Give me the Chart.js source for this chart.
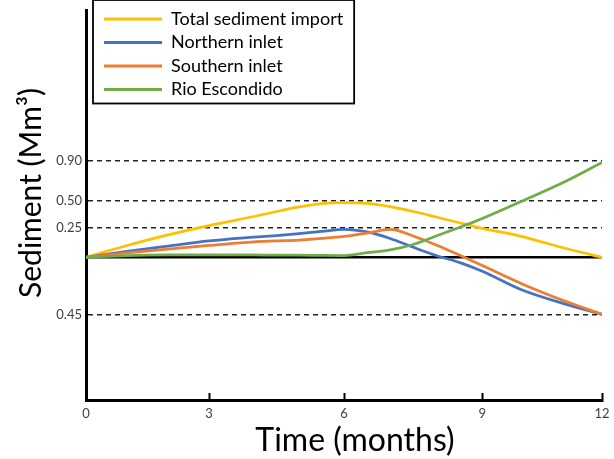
<!DOCTYPE html>
<html>
<head>
<meta charset="utf-8">
<script src="https://cdn.jsdelivr.net/npm/chart.js@4.4.1/dist/chart.umd.min.js"></script>
<style>
  html, body { margin: 0; padding: 0; background: #ffffff; }
  #wrap { width: 614px; height: 459px; }
</style>
</head>
<body>
<div id="wrap"><canvas id="chart" width="614" height="459"></canvas></div>
<script>
// Sediment budget over one year (Mm³); positive = import, negative = export
const months = [0, 1, 2, 3, 4, 4.5, 5, 5.5, 6, 6.5, 7, 7.5, 8, 8.5, 9, 10, 11, 12];
const totalImport   = [0, 0.10, 0.19, 0.27, 0.354, 0.40, 0.442, 0.474, 0.483, 0.475, 0.445, 0.40, 0.349, 0.296, 0.245, 0.175, 0.083, 0];
const northernInlet = [0, 0.05, 0.095, 0.138, 0.17, 0.184, 0.20, 0.218, 0.236, 0.214, 0.159, 0.085, 0.015, -0.04, -0.11, -0.258, -0.362, -0.45];
const southernInlet = [0, 0.037, 0.07, 0.10, 0.13, 0.138, 0.146, 0.159, 0.176, 0.205, 0.235, 0.18, 0.104, 0.019, -0.065, -0.21, -0.337, -0.45];
const rioEscondido  = [0, 0.015, 0.02, 0.02, 0.02, 0.018, 0.018, 0.016, 0.015, 0.039, 0.062, 0.108, 0.18, 0.252, 0.335, 0.497, 0.676, 0.88];
const seriesNames = ['Total sediment import', 'Northern inlet', 'Southern inlet', 'Rio Escondido'];
const seriesColors = ['#FFC000', '#4472C4', '#ED7D31', '#70AD47'];
const yTickValues = [-0.45, 0, 0.25, 0.5, 0.9];
const xTickValues = [0, 3, 6, 9, 12];

// Schematic axes: each axis is piecewise linear between [value, fraction-of-axis] stops
const axisStops = {
  x: [[0, 0], [3, 0.2384], [6, 0.5], [9, 0.768], [12, 1]],
  y: [[-1.13, 0], [-0.45, 0.2197], [0, 0.3659], [0.25, 0.4418], [0.5, 0.5110], [0.9, 0.6141], [2.4, 1]]
};

class StopScale extends Chart.LinearScale {
  static id = 'stops';
  static defaults = Chart.LinearScale.defaults;
  _stops() { return axisStops[this.id]; }
  _toDecimal(v) {
    const s = this._stops();
    let i = 1;
    while (i < s.length - 1 && v > s[i][0]) i++;
    const [v0, d0] = s[i - 1], [v1, d1] = s[i];
    return d0 + (v - v0) * (d1 - d0) / (v1 - v0);
  }
  _fromDecimal(d) {
    const s = this._stops();
    let i = 1;
    while (i < s.length - 1 && d > s[i][1]) i++;
    const [v0, d0] = s[i - 1], [v1, d1] = s[i];
    return v0 + (d - d0) * (v1 - v0) / (d1 - d0);
  }
  getPixelForValue(value) { return this.getPixelForDecimal(this._toDecimal(value)); }
  getValueForPixel(pixel) { return this._fromDecimal(this.getDecimalForPixel(pixel)); }
}
Chart.register(StopScale);

const toPoints = (values) => months.map((m, i) => ({ x: m, y: values[i] }));
const seriesValues = [totalImport, northernInlet, southernInlet, rioEscondido];

const datasets = seriesValues.map((vals, i) => ({
  label: seriesNames[i],
  data: toPoints(vals),
  borderColor: seriesColors[i],
  backgroundColor: seriesColors[i],
  borderWidth: 2.75,
  pointRadius: 0,
  cubicInterpolationMode: 'monotone',
  order: 4 - i
}));
// zero line
datasets.push({
  label: 'zero',
  data: toPoints(months.map(() => 0)),
  borderColor: '#000000',
  borderWidth: 2.5,
  pointRadius: 0,
  order: 10
});

const tickFont = { family: 'Lato', size: 13 };

const decor = {
  id: 'decor',
  afterLayout(chart) {
    chart.legend.left += 12.5;
    chart.legend.top += 4.5;
  },
  afterDraw(chart) {
    const ctx = chart.ctx;
    const lg = chart.legend;
    const lab = lg.options.labels;
    ctx.save();
    ctx.font = lab.font.size + 'px ' + lab.font.family;
    const maxText = Math.max(...seriesNames.map(t => ctx.measureText(t).width));
    const x0 = lg.left + lab.padding;
    const y0 = lg.top + lab.padding;
    const rows = seriesNames.length;
    const rowH = lab.font.size + lab.padding;
    const left = x0 - 11, top = y0 - 10;
    const right = x0 + lab.boxWidth + lab.font.size / 2 + maxText + 11;
    const bottom = y0 + (rows - 1) * rowH + lab.font.size + 5;
    ctx.lineWidth = 1.8;
    ctx.strokeStyle = '#000';
    ctx.strokeRect(left, top, right - left, bottom - top);

    // axis titles
    ctx.fillStyle = '#000';
    ctx.textAlign = 'center';
    ctx.textBaseline = 'alphabetic';
    ctx.font = '32px Lato';
    ctx.fillText('Time (months)', 355, 451);
    ctx.font = '30px Lato';
    ctx.translate(41, 193);
    ctx.rotate(-Math.PI / 2);
    ctx.fillText('Sediment (Mm³)', 0, 0);
    ctx.restore();
  }
};

new Chart(document.getElementById('chart'), {
  type: 'line',
  data: { datasets },
  options: {
    responsive: false,
    animation: false,
    devicePixelRatio: 1,
    layout: { padding: { top: 10, right: 12, left: 0, bottom: 0 } },
    scales: {
      x: {
        type: 'stops',
        min: 0, max: 12,
        afterBuildTicks: (s) => { s.ticks = xTickValues.map(v => ({ value: v })); },
        afterFit: (s) => { s.height = 59; s.paddingLeft = 0; s.paddingRight = 0; },
        ticks: { font: tickFont, color: '#404040', padding: 13, maxRotation: 0, callback: (v) => String(v) },
        grid: { drawOnChartArea: false, tickLength: -7, tickWidth: 2, tickColor: '#000' },
        border: { display: true, color: '#000', width: 3 }
      },
      y: {
        type: 'stops',
        min: -1.13, max: 2.4,
        afterBuildTicks: (s) => { s.ticks = yTickValues.map(v => ({ value: v })); },
        afterFit: (s) => { s.width = 86; s.paddingTop = 0; s.paddingBottom = 0; },
        ticks: { font: tickFont, color: '#404040', padding: 4, callback: (v) => (v === 0 ? '' : Math.abs(v).toFixed(2)) },
        grid: {
          drawTicks: false,
          lineWidth: 1.6,
          color: (c) => (c.tick && c.tick.value === 0 ? 'rgba(0,0,0,0)' : '#222')
        },
        border: { display: true, color: '#000', width: 3, dash: [5, 4] }
      }
    },
    plugins: {
      legend: {
        position: 'chartArea',
        align: 'start',
        labels: {
          font: { family: 'Lato', size: 18 },
          color: '#000',
          boxWidth: 58,
          boxHeight: 3,
          padding: 5.5,
          filter: (item) => item.text !== 'zero',
          sort: (a, b) => a.datasetIndex - b.datasetIndex,
          generateLabels: (chart) => Chart.defaults.plugins.legend.labels.generateLabels(chart)
            .map(l => Object.assign(l, { lineWidth: 0, fillStyle: l.strokeStyle }))
        }
      },
      tooltip: { enabled: false }
    }
  },
  plugins: [decor]
});
</script>
</body>
</html>
